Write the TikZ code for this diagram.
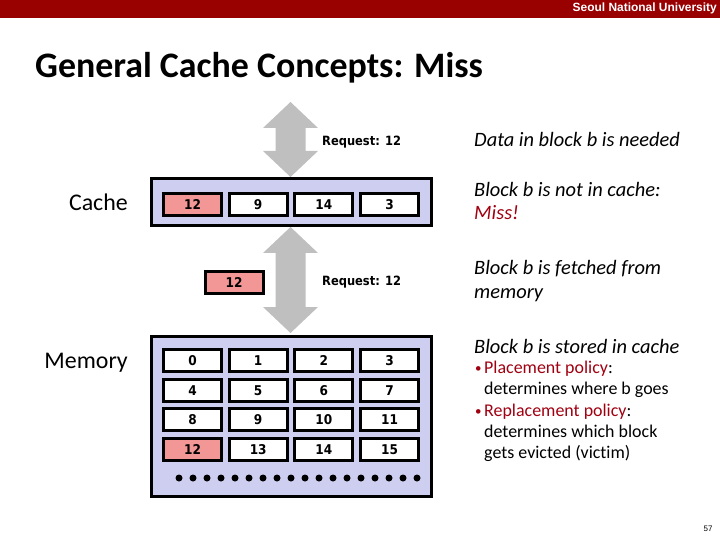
\documentclass[tikz,border=0pt]{standalone}
\usepackage{fontspec}
\setmainfont{Carlito}[Ligatures=NoCommon]
\newfontfamily\tah{DejaVu Sans Condensed}
\newfontfamily\arl{Liberation Sans}
\definecolor{barred}{RGB}{153,0,0}
\definecolor{lav}{RGB}{206,206,240}
\definecolor{pinkc}{RGB}{242,150,150}
\definecolor{arrgrey}{RGB}{191,191,191}
\definecolor{txtred}{RGB}{160,0,16}
\newcommand\blockarrow[3]{% x, ytop, ybot
  \fill[arrgrey] (#1,#2) -- ++(27.5,26) -- ++(-12.5,0) -- (#1+15,#3-26) -- ++(12.5,0)
    -- (#1,#3) -- ++(-27.5,-26) -- ++(12.5,0) -- (#1-15,#2+26) -- ++(-12.5,0) -- cycle;}
\begin{document}
\begin{tikzpicture}[x=1bp,y=-1bp,
  cellbox/.style={draw=black, line width=3bp, fill=white, minimum width=58bp, minimum height=22bp,
    inner sep=0pt, font=\tah\bfseries\fontsize{13.5}{15}\selectfont},
  hotcell/.style={cellbox, fill=pinkc},
  outerbox/.style={draw=black, line width=3bp, fill=lav},
  reqlabel/.style={anchor=west, inner sep=0pt, font=\tah\bfseries\fontsize{12.8}{14}\selectfont},
  sidelabel/.style={anchor=base east, inner sep=0pt, font=\fontsize{24}{28}\selectfont},
  notetext/.style={anchor=base west, inner sep=0pt, font=\itshape\fontsize{20.5}{24}\selectfont},
  bullettext/.style={anchor=base west, inner sep=0pt, font=\fontsize{18}{21}\selectfont},
  bulletmark/.style={anchor=base west, inner sep=0pt, text=txtred, font=\fontsize{13}{15}\selectfont},
  memdot/.style={circle, fill=black, inner sep=0pt, minimum size=7bp}
]
\useasboundingbox (0,0) rectangle (720,540);
% top bar
\fill[barred] (0,0) rectangle (720,18);
\node[anchor=east, inner sep=0pt, text=white, font=\arl\bfseries\fontsize{12}{14}\selectfont] (univ) at (717,8.5) {Seoul National University};
% title
\node[anchor=base west, inner sep=0pt, font=\bfseries\fontsize{36}{42}\selectfont] (title) at (35,78) {General Cache Concepts: Miss};
% labels
\node[sidelabel] (cachelbl) at (128,211) {Cache};
\node[sidelabel] (memlbl) at (128,368) {Memory};
% arrows
\blockarrow{290.5}{102}{177}
\blockarrow{290.5}{227}{333}
\node[reqlabel] (req1) at (322,142) {Request: 12};
\node[reqlabel] (req2) at (322,282) {Request: 12};
% cache
\draw[outerbox] (151.5,178.5) rectangle (431.5,225.5);
\node[hotcell] (c0) at (192.5,204.5) {12};
\node[cellbox] (c1) at (258.2,204.5) {9};
\node[cellbox] (c2) at (323.9,204.5) {14};
\node[cellbox] (c3) at (389.6,204.5) {3};
% fetched block
\node[hotcell] (fetched) at (234,282.5) {12};
% memory
\draw[outerbox] (151.5,336.5) rectangle (431.5,496.5);
\foreach \r in {0,1,2,3}{
  \foreach \c in {0,1,2,3}{
    \pgfmathtruncatemacro{\v}{4*\r+\c}
    \ifnum\v=12
      \node[hotcell] (m\v) at (192.5+65.7*\c,360.5+29.7*\r) {\v};
    \else
      \node[cellbox] (m\v) at (192.5+65.7*\c,360.5+29.7*\r) {\v};
    \fi
  }
}
\foreach \i in {0,...,17}{
  \node[memdot] (d\i) at (179+14*\i,478) {};
}
% notes
\node[notetext] (n1) at (474,146.5) {Data in block b is needed};
\node[notetext] (n2) at (474,196.5) {Block b is not in cache:};
\node[notetext, text=txtred] (n3) at (474,219.5) {Miss!};
\node[notetext] (n4) at (474,274.5) {Block b is fetched from};
\node[notetext] (n5) at (474,298.5) {memory};
\node[notetext] (n6) at (474,353.5) {Block b is stored in cache};
\node[bulletmark] (bm1) at (475,372.5) {\textbullet};
\node[bullettext] (b1) at (484,373.5) {\textcolor{txtred}{Placement policy}:};
\node[bullettext] (b2) at (484,394.5) {determines where b goes};
\node[bulletmark] (bm3) at (475,415.5) {\textbullet};
\node[bullettext] (b3) at (484,416.5) {\textcolor{txtred}{Replacement policy}:};
\node[bullettext] (b4) at (484,437.5) {determines which block};
\node[bullettext] (b5) at (484,458.5) {gets evicted (victim)};
% page number
\node[inner sep=0pt, font=\arl\fontsize{8}{9}\selectfont] (pg) at (708,529) {57};
\end{tikzpicture}
\end{document}
